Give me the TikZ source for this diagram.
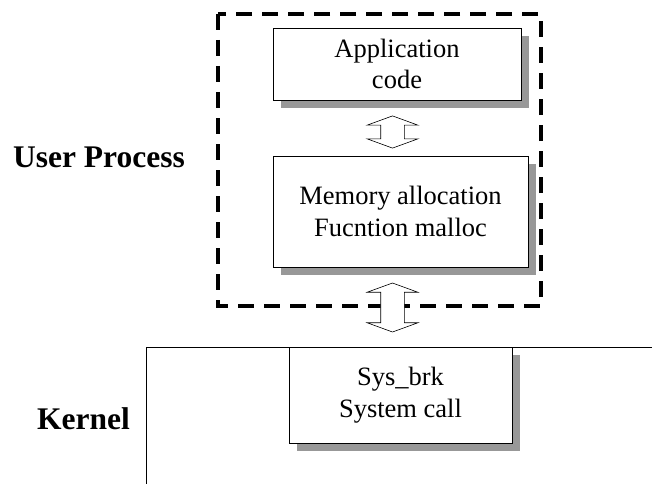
\documentclass[tikz,border=0pt]{standalone}
\usepackage{fontspec}
\setmainfont{Liberation Serif}
\usetikzlibrary{shapes.arrows,shadows,calc}

\begin{document}
\begin{tikzpicture}[
  x=1pt, y=-1pt,
  caja/.style={draw, fill=white, line width=0.8pt, align=center,
               inner sep=0pt, font=\fontsize{26.5}{31.5}\selectfont,
               drop shadow={shadow xshift=8pt, shadow yshift=-8pt,
                            fill=gray!85!black!70, opacity=1}},
  bloque/.style={draw, fill=white, line width=0.6pt, double arrow,
                 shape border rotate=90, inner sep=11.5pt,
                 minimum width=50pt, double arrow head extend=13.5pt,
                 double arrow tip angle=140},
  etiqueta/.style={font=\fontsize{31.5}{36}\selectfont\bfseries},
  limite/.style={line width=3.5pt, dash pattern=on 16pt off 10pt}
]
  \useasboundingbox (0,0) rectangle (652,484);

  % kernel area
  \draw[line width=0.8pt] (652,347) -- (146,347) -- (146,484);

  % user process boundary
  \draw[limite] (218,14) rectangle (541,306);

  \node[caja, minimum width=248pt, minimum height=72pt] (app) at (397,64)
    {Application\\code};
  \node[caja, minimum width=255pt, minimum height=111pt] (mem) at (400.5,211.5)
    {Memory allocation\\Fucntion malloc};
  \node[caja, minimum width=223pt, minimum height=96pt] (sys) at (400.5,395)
    {Sys\_brk\\System call};

  \node[bloque, minimum height=32pt] (up) at (392.5,132) {};
  \node[bloque, minimum height=49pt] (down) at (392.5,307.5) {};

  \node[etiqueta] (user) at (99,157) {User Process};
  \node[etiqueta] (kern) at (83.5,419) {Kernel};
\end{tikzpicture}
\end{document}
